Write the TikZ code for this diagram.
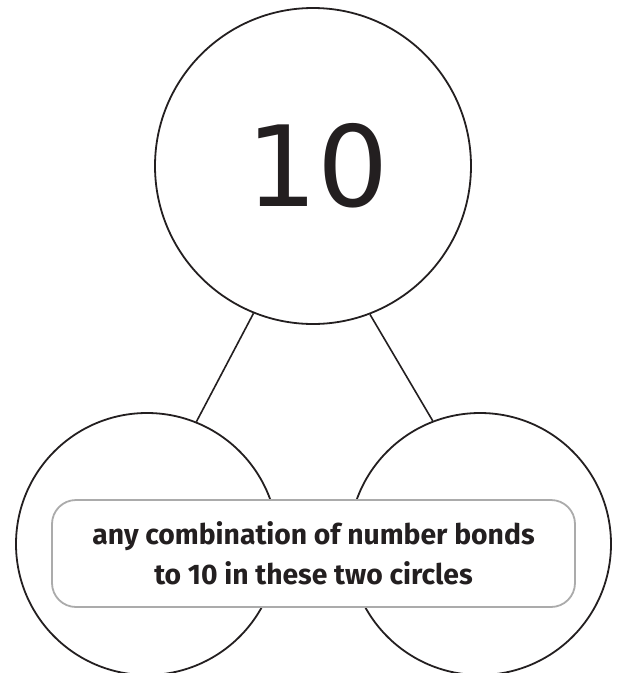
\documentclass[tikz,border=0pt]{standalone}
\usepackage{fontspec}
\usepackage{xcolor}
\newfontfamily\bondfont{Fira Sans}
\newfontfamily\wholefont{DejaVu Sans}
\definecolor{inkgray}{HTML}{231F20}
\definecolor{boxgray}{HTML}{ABABAB}
\usetikzlibrary{positioning}

\begin{document}
\begin{tikzpicture}[x=1pt, y=-1pt,
  bond/.style={draw=inkgray, circle, line width=1.8pt, inner sep=0pt},
  whole/.style={bond, minimum size=316pt, font=\wholefont\fontsize{112}{112}\selectfont,
    text=inkgray},
  part/.style={bond, minimum size=262pt},
  link/.style={draw=inkgray, line width=1.6pt},
  note/.style={draw=boxgray, line width=1.8pt, fill=white, rounded corners=24pt,
    minimum width=523pt, minimum height=107pt, align=center, text=inkgray,
    font=\bondfont\bfseries\fontsize{28.3}{40}\selectfont},
]
\useasboundingbox (0,0) rectangle (619,673);

% --- Whole and parts ---
\node[whole] (ten) at (313,166) {\hspace*{10pt}10};
\node[part]  (left)  at (147,544) {};
\node[part]  (right) at (480,544) {};

% --- Links ---
\draw[link] (ten.248.6) -- (left.68.6);
\draw[link] (ten.291.4) -- (right.111.4);

% --- Instruction box ---
\node[note] (hint) at (313.5,553.5) {any combination of number bonds\\to 10 in these two circles};
\end{tikzpicture}
\end{document}
